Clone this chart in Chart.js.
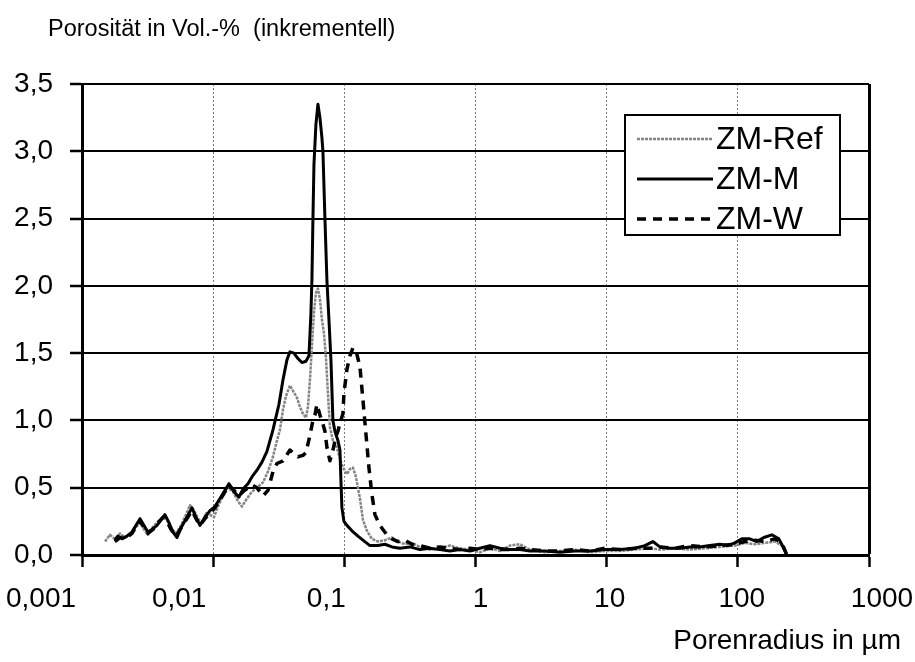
<!DOCTYPE html>
<html>
<head>
<meta charset="utf-8">
<script src="https://cdn.jsdelivr.net/npm/chart.js@4.4.0/dist/chart.umd.min.js"></script>
<style>
body { margin: 0; background: #fff; }
</style>
</head>
<body>
<canvas id="chart" width="915" height="662"></canvas>
<script>
const titleText = 'Porosität in Vol.-%  (inkrementell)'
const xAxisTitle = 'Porenradius in µm'
const seriesNames = ['ZM-Ref', 'ZM-M', 'ZM-W']

const xTickValues = [0.001, 0.01, 0.1, 1, 10, 100, 1000]
const xTickLabels = ['0,001', '0,01', '0,1', '1', '10', '100', '1000']
const yTickLabels = ['0,0', '0,5', '1,0', '1,5', '2,0', '2,5', '3,0', '3,5']

// ZM-Ref (grau)
const refX = [0.00150, 0.00163, 0.00178, 0.00195, 0.00213, 0.00232, 0.00254, 0.00277, 0.00297, 0.00318,
  0.00348, 0.00380, 0.00414, 0.00445, 0.00477, 0.00521, 0.00568, 0.00621, 0.00666, 0.00714,
  0.00766, 0.00822, 0.00881, 0.00945, 0.01014, 0.01088, 0.01188, 0.01297, 0.01416, 0.01545,
  0.01658, 0.01810, 0.01975, 0.02157, 0.02397, 0.02617, 0.02857, 0.03065, 0.03230, 0.03404,
  0.03589, 0.03850, 0.04058, 0.04352, 0.04588, 0.04836, 0.05097, 0.05280, 0.05468, 0.05663,
  0.05866, 0.06075, 0.06293, 0.06516, 0.06749, 0.06990, 0.07239, 0.07499, 0.07766, 0.08186,
  0.08630, 0.09258, 0.09757, 0.1047, 0.1103, 0.1163, 0.1226, 0.1315, 0.1387, 0.1487,
  0.1623, 0.1804, 0.2040, 0.2307, 0.2562, 0.2897, 0.3275, 0.3769, 0.4491, 0.5355,
  0.6382, 0.7606, 0.9064, 1.080, 1.288, 1.535, 1.829, 2.180, 2.598, 3.381,
  4.398, 5.723, 7.447, 9.690, 12.61, 16.40, 21.35, 25.44, 33.10, 43.06,
  56.04, 72.92, 94.9, 113.1, 134.8, 160.6, 191.4, 216.5, 236.3]
const refY = [0.10, 0.15, 0.12, 0.16, 0.13, 0.15, 0.20, 0.24, 0.19, 0.15,
  0.21, 0.25, 0.28, 0.26, 0.20, 0.16, 0.22, 0.30, 0.37, 0.33,
  0.27, 0.24, 0.31, 0.30, 0.28, 0.36, 0.44, 0.50, 0.47, 0.40,
  0.36, 0.42, 0.47, 0.50, 0.54, 0.62, 0.73, 0.85, 0.93, 1.08,
  1.18, 1.26, 1.22, 1.17, 1.10, 1.05, 1.02, 1.10, 1.30, 1.55,
  1.80, 1.95, 1.98, 1.90, 1.75, 1.65, 1.47, 1.20, 0.95, 0.85,
  0.82, 0.72, 0.65, 0.60, 0.64, 0.65, 0.58, 0.42, 0.26, 0.18,
  0.12, 0.10, 0.11, 0.13, 0.10, 0.08, 0.09, 0.06, 0.04, 0.05,
  0.07, 0.05, 0.04, 0.02, 0.05, 0.03, 0.07, 0.08, 0.04, 0.02,
  0.03, 0.04, 0.02, 0.03, 0.03, 0.04, 0.05, 0.04, 0.05, 0.04,
  0.05, 0.06, 0.07, 0.09, 0.08, 0.09, 0.10, 0.07, 0.00]

// ZM-M (schwarz, durchgezogen)
const mX = [0.00178, 0.00188, 0.00202, 0.00220, 0.00240, 0.00258, 0.00277, 0.00297, 0.00318, 0.00342,
  0.00373, 0.00400, 0.00429, 0.00460, 0.00494, 0.00530, 0.00568, 0.00621, 0.00689, 0.00740,
  0.00793, 0.00866, 0.00945, 0.01032, 0.01127, 0.01230, 0.01320, 0.01441, 0.01573, 0.01687,
  0.01842, 0.01975, 0.02157, 0.02355, 0.02571, 0.02857, 0.03174, 0.03404, 0.03652, 0.03850,
  0.04130, 0.04430, 0.04752, 0.05097, 0.05373, 0.05565, 0.05663, 0.05764, 0.05866, 0.05969,
  0.06075, 0.06293, 0.06516, 0.06749, 0.06868, 0.07113, 0.07368, 0.07631, 0.07904, 0.08186,
  0.08477, 0.08939, 0.09258, 0.09422, 0.09588, 0.09931, 0.1047, 0.1143, 0.1270, 0.1387,
  0.1567, 0.1804, 0.2040, 0.2307, 0.2654, 0.3162, 0.3769, 0.4491, 0.5355, 0.6382,
  0.7606, 0.9064, 1.080, 1.288, 1.535, 1.829, 2.180, 2.598, 3.381, 4.398,
  5.723, 7.447, 9.690, 12.61, 16.40, 19.55, 22.50, 25.44, 30.32, 36.13,
  43.06, 51.33, 61.17, 72.92, 83.9, 94.9, 107.3, 123.4, 139.6, 157.8,
  181.6, 205.4, 224.2, 236.3]
const mY = [0.11, 0.14, 0.12, 0.14, 0.17, 0.22, 0.27, 0.22, 0.17, 0.19,
  0.22, 0.26, 0.30, 0.24, 0.17, 0.13, 0.20, 0.27, 0.35, 0.28,
  0.22, 0.28, 0.33, 0.36, 0.42, 0.48, 0.53, 0.47, 0.43, 0.49,
  0.53, 0.58, 0.63, 0.69, 0.77, 0.93, 1.12, 1.30, 1.45, 1.51,
  1.50, 1.46, 1.43, 1.44, 1.48, 1.80, 2.05, 2.50, 2.90, 3.05,
  3.20, 3.35, 3.25, 3.10, 3.00, 2.50, 2.04, 1.75, 1.45, 1.00,
  0.92, 0.85, 0.78, 0.55, 0.35, 0.25, 0.22, 0.18, 0.14, 0.11,
  0.07, 0.07, 0.08, 0.06, 0.05, 0.06, 0.04, 0.05, 0.04, 0.03,
  0.04, 0.03, 0.05, 0.07, 0.05, 0.04, 0.04, 0.03, 0.03, 0.02,
  0.03, 0.03, 0.04, 0.04, 0.05, 0.07, 0.10, 0.06, 0.05, 0.05,
  0.06, 0.06, 0.07, 0.08, 0.07, 0.09, 0.12, 0.12, 0.10, 0.13,
  0.15, 0.12, 0.05, 0.00]

// ZM-W (schwarz, gestrichelt)
const wX = [0.00178, 0.00195, 0.00220, 0.00240, 0.00258, 0.00277, 0.00297, 0.00318, 0.00348, 0.00380,
  0.00414, 0.00445, 0.00477, 0.00521, 0.00568, 0.00621, 0.00689, 0.00740, 0.00793, 0.00866,
  0.00945, 0.01032, 0.01127, 0.01230, 0.01320, 0.01441, 0.01573, 0.01687, 0.01842, 0.01975,
  0.02157, 0.02397, 0.02617, 0.02857, 0.03065, 0.03404, 0.03850, 0.04130, 0.04430, 0.04836,
  0.05097, 0.05468, 0.05764, 0.05969, 0.06183, 0.06516, 0.06749, 0.07113, 0.07368, 0.07766,
  0.08186, 0.08630, 0.08939, 0.09258, 0.09757, 0.09931, 0.1047, 0.1103, 0.1163, 0.1226,
  0.1315, 0.1387, 0.1461, 0.1540, 0.1623, 0.1711, 0.1867, 0.2112, 0.2307, 0.2562,
  0.2897, 0.3275, 0.3769, 0.4491, 0.5355, 0.6382, 0.7606, 0.9064, 1.080, 1.288,
  1.535, 1.829, 2.180, 2.598, 3.381, 4.398, 5.723, 7.447, 9.690, 12.61,
  16.40, 21.35, 25.44, 33.10, 43.06, 56.04, 72.92, 94.9, 113.1, 134.8,
  160.6, 191.4, 216.5, 236.3]
const wY = [0.10, 0.13, 0.13, 0.16, 0.21, 0.25, 0.21, 0.16, 0.19, 0.24,
  0.28, 0.25, 0.19, 0.14, 0.20, 0.26, 0.33, 0.27, 0.22, 0.27,
  0.31, 0.35, 0.41, 0.47, 0.52, 0.48, 0.44, 0.47, 0.50, 0.52,
  0.50, 0.44, 0.48, 0.62, 0.68, 0.70, 0.78, 0.75, 0.73, 0.74,
  0.76, 0.89, 1.00, 1.04, 1.12, 1.04, 1.00, 0.92, 0.80, 0.70,
  0.78, 0.88, 0.92, 0.98, 1.05, 1.20, 1.38, 1.48, 1.54, 1.52,
  1.40, 1.15, 0.90, 0.65, 0.45, 0.30, 0.22, 0.15, 0.12, 0.10,
  0.11, 0.08, 0.07, 0.05, 0.06, 0.05, 0.04, 0.05, 0.04, 0.05,
  0.04, 0.04, 0.05, 0.04, 0.03, 0.03, 0.04, 0.03, 0.05, 0.04,
  0.05, 0.05, 0.06, 0.05, 0.07, 0.06, 0.07, 0.08, 0.10, 0.11,
  0.10, 0.12, 0.09, 0.00]

const font = '"Liberation Sans", Arial, sans-serif'
// horizontale Verschiebung der x-Beschriftungen gegenüber ihrem Teilstrich (wie im Scan)
const xLabelShift = [-41, -34, -18, 5, 3, 4, 13]

function toPoints(xs, ys) {
    return xs.map((x, i) => ({ x: x, y: ys[i] }))
}

// Titel, Achsenbeschriftung und Legende direkt auf die Leinwand
const textPlugin = {
    id: 'texts',
    afterDraw(chart) {
        const ctx = chart.ctx
        const xs = chart.scales.x
        ctx.save()
        ctx.fillStyle = '#000'
        ctx.textBaseline = 'middle'
        ctx.textAlign = 'left'
        ctx.font = '23.5px ' + font
        ctx.fillText(titleText, 48, 30)

        ctx.textAlign = 'center'
        ctx.font = '28px ' + font
        xTickValues.forEach((v, i) => {
            ctx.fillText(xTickLabels[i], xs.getPixelForValue(v) + xLabelShift[i], 599)
        })

        ctx.textAlign = 'right'
        ctx.font = '28px ' + font
        ctx.fillText(xAxisTitle, 901, 641)

        // Legende
        const lx = 625, ly = 115, lw = 215, lh = 120
        ctx.fillStyle = '#fff'
        ctx.fillRect(lx, ly, lw, lh)
        ctx.lineWidth = 2
        ctx.strokeStyle = '#000'
        ctx.strokeRect(lx, ly, lw, lh)
        ctx.font = '32px ' + font
        ctx.textAlign = 'left'
        chart.data.datasets.forEach((ds, i) => {
            const y = ly + 24 + i * 40
            ctx.save()
            ctx.strokeStyle = ds.borderColor
            ctx.lineWidth = ds.borderWidth
            ctx.setLineDash(ds.borderDash || [])
            ctx.beginPath()
            ctx.moveTo(637, y)
            ctx.lineTo(713, y)
            ctx.stroke()
            ctx.restore()
            ctx.fillStyle = '#000'
            ctx.fillText(ds.label, 716, y + 1)
        })
        ctx.restore()
    }
}

new Chart(document.getElementById('chart'), {
    type: 'line',
    data: {
        datasets: [{
            label: seriesNames[0],
            data: toPoints(refX, refY),
            borderColor: '#848484',
            borderWidth: 2.5,
            borderDash: [3, 1],
            order: 2
        }, {
            label: seriesNames[1],
            data: toPoints(mX, mY),
            borderColor: '#000',
            borderWidth: 3,
            order: 0
        }, {
            label: seriesNames[2],
            data: toPoints(wX, wY),
            borderColor: '#000',
            borderWidth: 3.5,
            borderDash: [9, 7],
            order: 1
        }]
    },
    options: {
        responsive: false,
        animation: false,
        layout: { padding: { top: 84, right: 46, bottom: 47, left: 0 } },
        elements: {
            point: { radius: 0 },
            line: { tension: 0, borderJoinStyle: 'round', borderCapStyle: 'butt' }
        },
        plugins: {
            legend: { display: false },
            title: { display: false },
            tooltip: { enabled: false }
        },
        scales: {
            x: {
                type: 'logarithmic',
                min: 0.001,
                max: 1000,
                afterBuildTicks: scale => {
                    scale.ticks = xTickValues.map(v => ({ value: v }))
                },
                afterFit: scale => { scale.height = 60 },
                ticks: {
                    display: false,
                    autoSkip: false,
                    maxRotation: 0
                },
                grid: {
                    color: c => (c.tick && c.tick.value === 1000 ? '#000' : '#777'),
                    lineWidth: c => (c.tick && c.tick.value === 1000 ? 3 : 1),
                    tickColor: '#000',
                    tickWidth: 2.5,
                    tickLength: 12
                },
                border: {
                    color: '#000',
                    width: 3,
                    dash: c => (c.tick && c.tick.value < 1000 ? [2, 2] : [])
                }
            },
            y: {
                min: 0,
                max: 3.5,
                afterFit: scale => { scale.width = 82 },
                ticks: {
                    stepSize: 0.5,
                    padding: 17,
                    color: '#000',
                    font: { family: font, size: 28 },
                    callback: (value, index) => yTickLabels[index]
                },
                grid: {
                    color: '#000',
                    lineWidth: 2,
                    tickColor: '#000',
                    tickWidth: 2.5,
                    tickLength: 12
                },
                border: { color: '#000', width: 3 }
            }
        }
    },
    plugins: [textPlugin]
})
</script>
</body>
</html>
